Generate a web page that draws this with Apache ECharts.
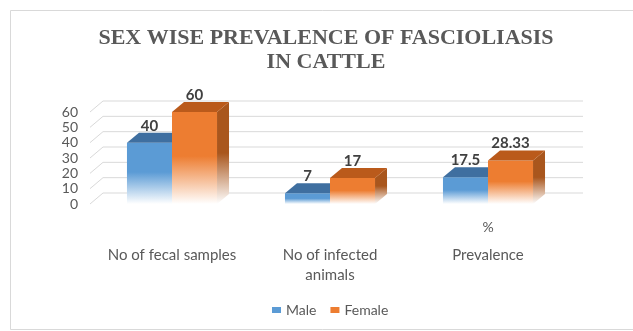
<!DOCTYPE html>
<html><head><meta charset="utf-8">
<script src="https://cdn.jsdelivr.net/npm/echarts@6/dist/echarts.min.js"></script>
<style>html,body{margin:0;padding:0;background:#fff}#c{width:633px;height:331px}</style>
</head><body><div id="c"></div>
<script>
// ---- data ----
const categories = ['No of fecal samples', 'No of infected\nanimals', 'Prevalence'];
const unitLabels = ['', '', '%'];
const seriesNames = ['Male', 'Female'];
const maleValues = [40, 7, 17.5];
const femaleValues = [60, 17, 28.33];
const yTicks = [0, 10, 20, 30, 40, 50, 60];

// ---- style ----
const DX = 12, DY = -10;          // bar depth
const GX0 = -3, GDX = 13, GDY = -11, GRX = 16; // back wall offsets
const palette = [
  { front: '#5B9BD5', top: '#3F6FA0', side: '#3D6D9C' },
  { front: '#ED7D31', top: '#BA5A1B', side: '#A9561D' }
];

function makeBarRenderer(k) {
  return function (params, api) {
    const ci = api.value(0), v = api.value(1);
    const pTop = api.coord([ci, v]);
    const pBase = api.coord([ci, 0]);
    const band = api.size([1, 0])[0];
    const bw = band * 0.285;
    const x0 = pTop[0] - bw + k * bw;
    const x1 = x0 + bw;
    const ty = pTop[1], by = pBase[1];
    const c = palette[k];
    return {
      type: 'group',
      children: [
        { type: 'rect', shape: { x: x0, y: ty, width: bw, height: by - ty },
          style: { fill: new echarts.graphic.LinearGradient(0, 0, 0, 1, [
            { offset: 0, color: c.front }, { offset: 0.48, color: c.front }, { offset: 1, color: '#ffffff' }]) } },
        { type: 'polygon', shape: { points: [[x1, ty], [x1 + DX, ty + DY], [x1 + DX, by + DY], [x1, by]] },
          style: { fill: new echarts.graphic.LinearGradient(0, 0, 0, 1, [
            { offset: 0, color: c.side }, { offset: 0.5, color: c.side }, { offset: 1, color: '#ffffff' }]) } },
        { type: 'polygon', shape: { points: [[x0, ty], [x1, ty], [x1 + DX, ty + DY], [x0 + DX, ty + DY]] },
          style: { fill: c.top } },
        { type: 'text', style: { x: (x0 + x1) / 2, y: ty - 17, text: String(v), align: 'center', verticalAlign: 'middle',
          font: 'bold 15px Lato', fill: '#404040' } }
      ]
    };
  };
}

function gridRenderer(params, api) {
  const v = api.value(1);
  const y = api.coord([0, v])[1];
  const cs = params.coordSys;
  const gx = cs.x;
  return {
    type: 'polyline',
    shape: { points: [[gx + GX0, y], [gx + GX0 + GDX, y + GDY], [gx + cs.width + GRX, y + GDY]] },
    style: { stroke: '#d9d9d9', lineWidth: 1, fill: null }
  };
}

const chart = echarts.init(document.getElementById('c'), null, { renderer: 'canvas' });
chart.setOption({
  animation: false,
  backgroundColor: '#ffffff',
  graphic: [{ type: 'rect', shape: { x: 10.5, y: 10.5, width: 700, height: 319 },
    style: { fill: null, stroke: '#d9d9d9', lineWidth: 1 }, silent: true }],
  title: {
    text: 'SEX WISE PREVALENCE OF FASCIOLIASIS\nIN CATTLE',
    left: 326, textAlign: 'center', top: 21, padding: [5, 0, 5, 0],
    textStyle: { fontFamily: 'Liberation Serif', fontWeight: 'bold', fontSize: 22, lineHeight: 24.5, color: '#595959' }
  },
  legend: {
    data: seriesNames, left: 267, top: 298, icon: 'rect', itemWidth: 9, itemHeight: 6, itemGap: 14,
    textStyle: { fontFamily: 'Lato', fontSize: 14, color: '#595959' }
  },
  grid: { left: 93, width: 474, top: 112, bottom: 127 },
  xAxis: [
    { type: 'category', data: categories, axisLine: { show: false }, axisTick: { show: false },
      axisLabel: { margin: 41, fontFamily: 'Lato', fontSize: 15, lineHeight: 20, color: '#595959', interval: 0 } },
    { type: 'category', data: unitLabels, position: 'bottom', axisLine: { show: false }, axisTick: { show: false },
      axisLabel: { margin: 13, fontFamily: 'Lato', fontSize: 14, lineHeight: 20, color: '#595959', interval: 0 } }
  ],
  yAxis: {
    type: 'value', min: 0, max: 60, interval: 10,
    axisLine: { show: false }, axisTick: { show: false }, splitLine: { show: false },
    axisLabel: { margin: 15, fontFamily: 'Lato', fontSize: 14, color: '#595959' }
  },
  series: [
    { type: 'custom', name: 'grid', silent: true, z: 1, renderItem: gridRenderer,
      data: yTicks.map(v => [0, v]) },
    { type: 'custom', name: seriesNames[0], z: 2, itemStyle: { color: palette[0].front }, renderItem: makeBarRenderer(0),
      data: maleValues.map((v, i) => [i, v]) },
    { type: 'custom', name: seriesNames[1], z: 3, itemStyle: { color: palette[1].front }, renderItem: makeBarRenderer(1),
      data: femaleValues.map((v, i) => [i, v]) }
  ]
});
</script></body></html>
